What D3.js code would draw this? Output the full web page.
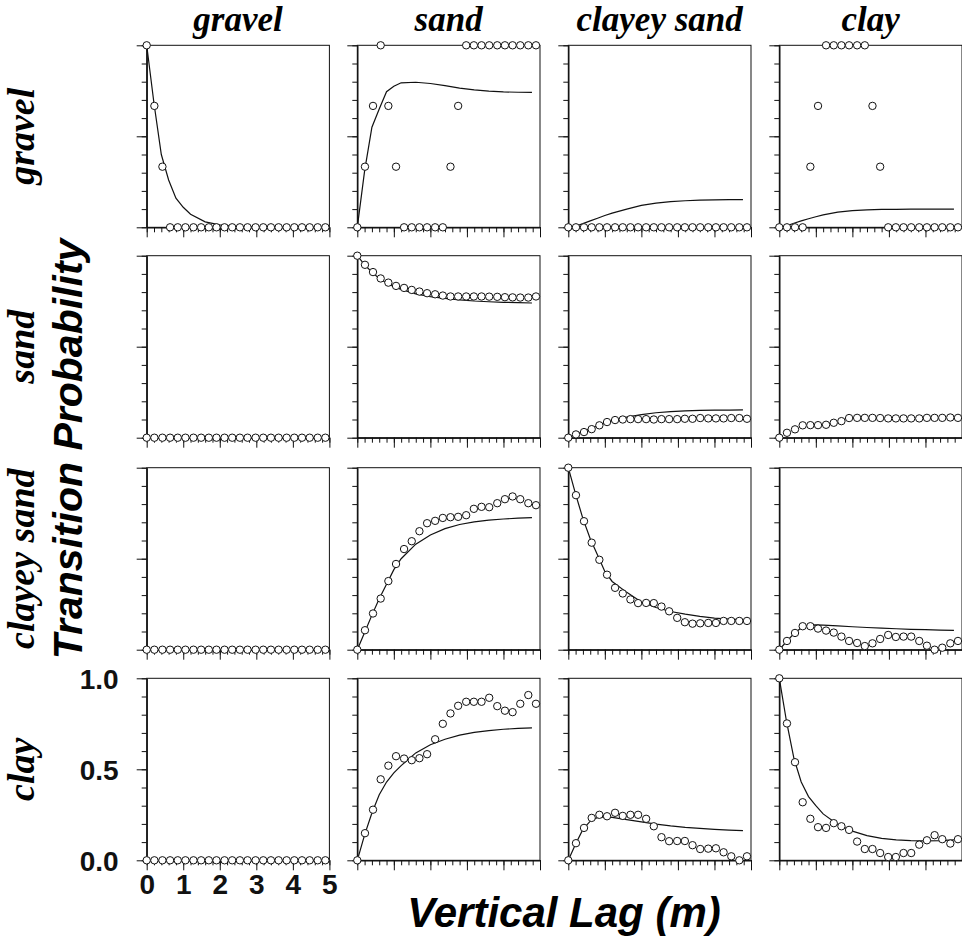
<!DOCTYPE html>
<html>
<head>
<meta charset="utf-8">
<script src="https://cdn.jsdelivr.net/npm/d3@7"></script>
<style>
  body { margin: 0; background: #fff; }
  svg { display: block; }
</style>
</head>
<body>
<div id="chart"></div>
<script>
// facies names (rows = from, columns = to)
const facies = ["gravel", "sand", "clayey sand", "clay"];

// lags of the measured transition probabilities (m)
const lags = [0.00, 0.21, 0.43, 0.64, 0.85, 1.06, 1.28, 1.49, 1.70, 1.91, 2.13, 2.34,
              2.55, 2.76, 2.98, 3.19, 3.40, 3.61, 3.83, 4.04, 4.25, 4.46, 4.68, 4.89];
// lags of the fitted Markov chain model (m)
const modelLags = [0, 0.2, 0.4, 0.6, 0.8, 1.0, 1.2, 1.6, 2.0, 2.4, 2.8, 3.2, 3.6, 4.0, 4.4, 4.78];

const xTickLabels = ["0", "1", "2", "3", "4", "5"];
const yTickLabels = ["0.0", "0.5", "1.0"];

// measured
const obsGravelGravel = [1, 0.667, 0.333, 0, 0, 0, 0, 0, 0, 0, 0, 0, 0, 0, 0, 0, 0, 0, 0, 0, 0, 0, 0, 0];
const obsGravelSand = [0, 0.333, 0.667, 1, 0.667, 0.333, 0, 0, 0, 0, 0, 0, 0.333, 0.667, 1, 1, 1, 1, 1, 1, 1, 1, 1, 1];
const obsGravelClayeySand = [0, 0, 0, 0, 0, 0, 0, 0, 0, 0, 0, 0, 0, 0, 0, 0, 0, 0, 0, 0, 0, 0, 0, 0];
const obsGravelClay = [0, 0, 0, 0, 0.333, 0.667, 1, 1, 1, 1, 1, 1, 0.667, 0.333, 0, 0, 0, 0, 0, 0, 0, 0, 0, 0];

const obsSandGravel = [0, 0, 0, 0, 0, 0, 0, 0, 0, 0, 0, 0, 0, 0, 0, 0, 0, 0, 0, 0, 0, 0, 0, 0];
const obsSandSand = [1.0, 0.95, 0.91, 0.875, 0.852, 0.834, 0.823, 0.812, 0.803, 0.794, 0.788, 0.781,
                     0.776, 0.776, 0.776, 0.776, 0.776, 0.775, 0.774, 0.772, 0.771, 0.770, 0.770, 0.776];
const obsSandClayeySand = [0, 0.018, 0.031, 0.047, 0.068, 0.086, 0.097, 0.100, 0.102, 0.102, 0.102, 0.100,
                           0.102, 0.102, 0.102, 0.104, 0.104, 0.108, 0.106, 0.106, 0.106, 0.108, 0.108, 0.104];
const obsSandClay = [0, 0.027, 0.046, 0.068, 0.069, 0.069, 0.071, 0.082, 0.091, 0.108, 0.109, 0.109,
                     0.109, 0.108, 0.106, 0.106, 0.106, 0.106, 0.106, 0.109, 0.109, 0.109, 0.111, 0.109];

const obsClayeySandGravel = [0, 0, 0, 0, 0, 0, 0, 0, 0, 0, 0, 0, 0, 0, 0, 0, 0, 0, 0, 0, 0, 0, 0, 0];
const obsClayeySandSand = [0, 0.107, 0.199, 0.281, 0.377, 0.471, 0.553, 0.596, 0.651, 0.695, 0.708, 0.724,
                           0.728, 0.730, 0.739, 0.774, 0.785, 0.783, 0.805, 0.827, 0.842, 0.827, 0.805, 0.794];
const obsClayeySandClayeySand = [1.0, 0.849, 0.706, 0.588, 0.494, 0.412, 0.340, 0.309, 0.276, 0.256, 0.257, 0.256,
                                 0.237, 0.211, 0.175, 0.151, 0.143, 0.145, 0.147, 0.147, 0.158, 0.158, 0.158, 0.158];
const obsClayeySandClay = [0, 0.048, 0.092, 0.129, 0.129, 0.116, 0.105, 0.094, 0.072, 0.048, 0.037, 0.020,
                           0.035, 0.059, 0.081, 0.070, 0.072, 0.072, 0.048, 0.022, 0.0, 0.011, 0.035, 0.048];

const obsClayGravel = [0, 0, 0, 0, 0, 0, 0, 0, 0, 0, 0, 0, 0, 0, 0, 0, 0, 0, 0, 0, 0, 0, 0, 0];
const obsClaySand = [0, 0.149, 0.278, 0.445, 0.520, 0.572, 0.559, 0.550, 0.561, 0.583, 0.665, 0.750,
                     0.807, 0.849, 0.871, 0.871, 0.871, 0.893, 0.847, 0.822, 0.814, 0.860, 0.908, 0.860];
const obsClayClayeySand = [0, 0.094, 0.178, 0.233, 0.250, 0.242, 0.261, 0.244, 0.250, 0.250, 0.228, 0.187,
                           0.127, 0.105, 0.106, 0.106, 0.083, 0.062, 0.064, 0.066, 0.044, 0.022, 0.0, 0.022];
const obsClayClay = [1.0, 0.752, 0.539, 0.319, 0.228, 0.182, 0.178, 0.204, 0.187, 0.167, 0.103, 0.062,
                     0.062, 0.040, 0.018, 0.018, 0.040, 0.040, 0.086, 0.110, 0.138, 0.116, 0.092, 0.116];

// model
const modGravelGravel = [1.0, 0.68, 0.40, 0.26, 0.16, 0.11, 0.072, 0.03, 0.013, 0.006, 0.003, 0.001, 0, 0, 0, 0];
const modGravelSand = [0, 0.31, 0.55, 0.65, 0.745, 0.775, 0.794, 0.797, 0.79, 0.778, 0.765, 0.755, 0.748, 0.744, 0.742, 0.741];
const modGravelClayeySand = [0, 0.005, 0.02, 0.035, 0.05, 0.065, 0.078, 0.10, 0.12, 0.133, 0.141, 0.146, 0.149, 0.151, 0.152, 0.152];
const modGravelClay = [0, 0.008, 0.022, 0.035, 0.047, 0.058, 0.068, 0.083, 0.092, 0.096, 0.098, 0.099, 0.10, 0.10, 0.10, 0.10];

const modSandSand = [1.0, 0.95, 0.91, 0.875, 0.85, 0.83, 0.815, 0.79, 0.775, 0.765, 0.757, 0.751, 0.747, 0.744, 0.742, 0.74];
const modSandClayeySand = [0, 0.018, 0.035, 0.05, 0.066, 0.08, 0.093, 0.113, 0.127, 0.137, 0.143, 0.147, 0.15, 0.151, 0.152, 0.153];

const modClayeySandSand = [0, 0.095, 0.19, 0.28, 0.36, 0.44, 0.50, 0.58, 0.63, 0.665, 0.688, 0.702, 0.712, 0.718, 0.723, 0.726];
const modClayeySandClayeySand = [1.0, 0.855, 0.72, 0.61, 0.52, 0.43, 0.375, 0.315, 0.262, 0.232, 0.21, 0.195, 0.183, 0.174, 0.168, 0.165];
const modClayeySandClay = [0, 0.045, 0.088, 0.12, 0.135, 0.136, 0.135, 0.131, 0.126, 0.122, 0.118, 0.115, 0.112, 0.11, 0.108, 0.106];

const modClaySand = [0, 0.14, 0.26, 0.36, 0.43, 0.48, 0.52, 0.59, 0.635, 0.665, 0.688, 0.703, 0.713, 0.72, 0.725, 0.728];
const modClayClayeySand = [0, 0.09, 0.17, 0.215, 0.235, 0.239, 0.236, 0.224, 0.211, 0.199, 0.189, 0.181, 0.175, 0.17, 0.166, 0.163];
const modClayClay = [1.0, 0.76, 0.56, 0.43, 0.35, 0.30, 0.255, 0.197, 0.16, 0.136, 0.12, 0.112, 0.108, 0.107, 0.108, 0.112];

const observed = [
  [obsGravelGravel, obsGravelSand, obsGravelClayeySand, obsGravelClay],
  [obsSandGravel, obsSandSand, obsSandClayeySand, obsSandClay],
  [obsClayeySandGravel, obsClayeySandSand, obsClayeySandClayeySand, obsClayeySandClay],
  [obsClayGravel, obsClaySand, obsClayClayeySand, obsClayClay]
];
const model = [
  [modGravelGravel, modGravelSand, modGravelClayeySand, modGravelClay],
  [null, modSandSand, modSandClayeySand, null],
  [null, modClayeySandSand, modClayeySandClayeySand, modClayeySandClay],
  [null, modClaySand, modClayClayeySand, modClayClay]
];

const width = 962, height = 942;
const panelW = 182.7, panelH = 182;
const colLeft = [146.7, 357.3, 568.3, 779.3];
const rowTop = [45.3, 255.7, 467.7, 678.3];

const svg = d3.select("#chart").append("svg")
  .attr("width", width)
  .attr("height", height);

const x = d3.scaleLinear().domain([0, 5]).range([0, panelW]);
const y = d3.scaleLinear().domain([0, 1]).range([panelH, 0]);

const xMinor = d3.range(0, 5.001, 0.2);
const yMinor = d3.range(0, 1.001, 0.1);
const xMajor = xTickLabels.map(Number);
const yMajor = yTickLabels.map(Number);

const line = d3.line()
  .x(d => x(d[0]))
  .y(d => y(d[1]));

facies.forEach((from, r) => {
  facies.forEach((to, c) => {
    const g = svg.append("g")
      .attr("transform", `translate(${colLeft[c]},${rowTop[r]})`);

    const labelled = (r === 3 && c === 0);

    // minor ticks
    g.append("g")
      .attr("transform", `translate(0,${panelH})`)
      .call(d3.axisBottom(x).tickValues(xMinor).tickSize(5).tickSizeOuter(0).tickFormat(""));
    g.append("g")
      .call(d3.axisLeft(y).tickValues(yMinor).tickSize(5).tickSizeOuter(0).tickFormat(""));

    // major ticks
    g.append("g")
      .attr("transform", `translate(0,${panelH})`)
      .call(d3.axisBottom(x).tickValues(xMajor).tickSize(10).tickSizeOuter(0)
        .tickPadding(4)
        .tickFormat((d, i) => labelled ? xTickLabels[i] : ""));
    const ya = g.append("g")
      .call(d3.axisLeft(y).tickValues(yMajor).tickSize(10).tickSizeOuter(0)
        .tickPadding(18)
        .tickFormat((d, i) => labelled ? yTickLabels[i] : ""));

    g.selectAll(".tick line").attr("stroke", "#111").attr("stroke-width", 1);
    g.selectAll(".domain").attr("stroke", "#111").attr("stroke-width", 1);
    g.selectAll(".tick text")
      .style("font-family", "'Liberation Sans', Arial, sans-serif")
      .style("font-weight", "bold")
      .style("font-size", "28px")
      .attr("fill", "#111");
    ya.selectAll(".tick text").attr("dy", "0.36em");

    // frame
    g.append("rect")
      .attr("width", panelW)
      .attr("height", panelH)
      .attr("fill", "none")
      .attr("stroke", "#111")
      .attr("stroke-width", 1);

    const m = model[r][c];
    if (m) {
      g.append("path")
        .datum(modelLags.map((l, i) => [l, m[i]]))
        .attr("fill", "none")
        .attr("stroke", "#111")
        .attr("stroke-width", 1.2)
        .attr("d", line);
    }

    g.selectAll("circle")
      .data(lags.map((l, i) => [l, observed[r][c][i]]))
      .enter()
      .append("circle")
      .attr("cx", d => x(d[0]))
      .attr("cy", d => y(d[1]))
      .attr("r", 3.7)
      .attr("fill", "#fff")
      .attr("stroke", "#111")
      .attr("stroke-width", 1);
  });
});

// column titles
svg.selectAll(".coltitle")
  .data(facies)
  .enter()
  .append("text")
  .attr("class", "coltitle")
  .attr("x", (d, i) => colLeft[i] + panelW / 2)
  .attr("y", 31)
  .attr("text-anchor", "middle")
  .style("font-family", "'Liberation Serif', 'Times New Roman', serif")
  .style("font-weight", "bold")
  .style("font-style", "italic")
  .style("font-size", "35px")
  .text(d => d);

// row titles
svg.selectAll(".rowtitle")
  .data(facies)
  .enter()
  .append("text")
  .attr("class", "rowtitle")
  .attr("transform", (d, i) => `translate(34,${rowTop[i] + panelH / 2}) rotate(-90)`)
  .attr("text-anchor", "middle")
  .style("font-family", "'Liberation Serif', 'Times New Roman', serif")
  .style("font-weight", "bold")
  .style("font-style", "italic")
  .style("font-size", "38px")
  .text(d => d);

// axis titles
svg.append("text")
  .attr("transform", "translate(82,449) rotate(-90)")
  .attr("text-anchor", "middle")
  .style("font-family", "'Liberation Sans', Arial, sans-serif")
  .style("font-weight", "bold")
  .style("font-style", "italic")
  .style("font-size", "41px")
  .text("Transition Probability");

svg.append("text")
  .attr("x", 564)
  .attr("y", 927)
  .attr("text-anchor", "middle")
  .style("font-family", "'Liberation Sans', Arial, sans-serif")
  .style("font-weight", "bold")
  .style("font-style", "italic")
  .style("font-size", "42px")
  .text("Vertical Lag (m)");
</script>
</body>
</html>
